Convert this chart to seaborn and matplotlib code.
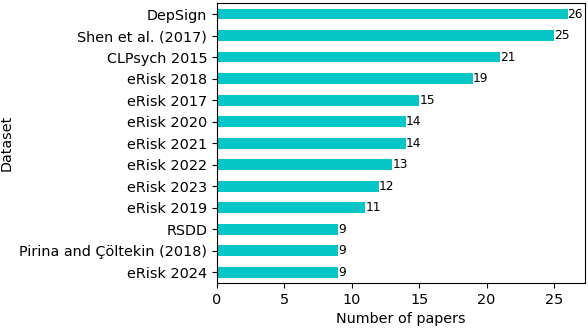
import matplotlib
matplotlib.use("Agg")
import matplotlib.pyplot as plt
import seaborn as sns
import pandas as pd

datasets = ["DepSign", "Shen et al. (2017)", "CLPsych 2015", "eRisk 2018", "eRisk 2017",
            "eRisk 2020", "eRisk 2021", "eRisk 2022", "eRisk 2023", "eRisk 2019",
            "RSDD", "Pirina and Çöltekin (2018)", "eRisk 2024"]
papers = [26, 25, 21, 19, 15, 14, 14, 13, 12, 11, 9, 9, 9]

df = pd.DataFrame({"Dataset": datasets, "Number of papers": papers})

fig, ax = plt.subplots(figsize=(5.88, 3.28), dpi=100)
sns.barplot(data=df, y="Dataset", x="Number of papers", orient="h",
            color="#06C6C6", saturation=1, width=0.5, ax=ax)
for c in ax.containers:
    ax.bar_label(c, fontsize=8.8, padding=0)
ax.set_xlim(0, 27.3)
ax.set_ylim(len(datasets) - 0.5, -0.5)
ax.tick_params(labelsize=10.4)
ax.set_xlabel("Number of papers", fontsize=10.4)
ax.set_ylabel("Dataset", fontsize=10.4)
fig.subplots_adjust(left=0.369, right=0.995, top=0.99, bottom=0.137)
fig.savefig("out.png", dpi=100)
